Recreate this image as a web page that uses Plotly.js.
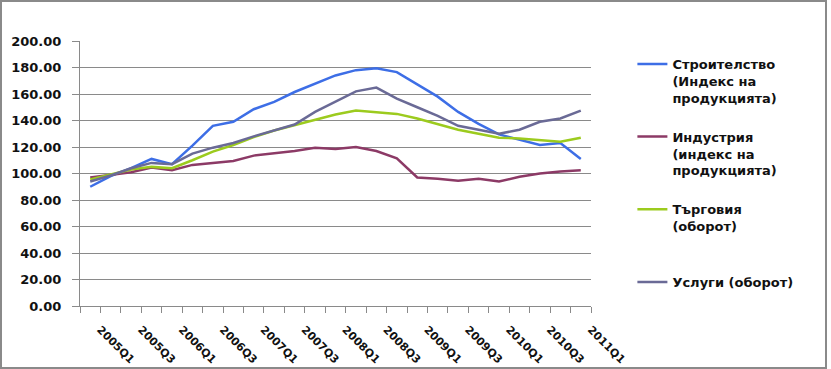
<!DOCTYPE html>
<html>
<head>
<meta charset="utf-8">
<script src="https://cdn.plot.ly/plotly-3.0.1.min.js"></script>
<style>
  html, body { margin: 0; padding: 0; background: #ffffff; }
  #chart { width: 831px; height: 369px; position: absolute; left: 0; top: 0; }
  #frame { position: absolute; left: 0; top: 0; width: 823px; height: 365px;
           border: 2px solid #8a8a8a; pointer-events: none; }
</style>
</head>
<body>
<div id="chart"></div>
<div id="frame"></div>
<script>
const categories = ["2005Q1","2005Q2","2005Q3","2005Q4","2006Q1","2006Q2","2006Q3","2006Q4",
  "2007Q1","2007Q2","2007Q3","2007Q4","2008Q1","2008Q2","2008Q3","2008Q4",
  "2009Q1","2009Q2","2009Q3","2009Q4","2010Q1","2010Q2","2010Q3","2010Q4","2011Q1"];

const construction = [90, 98, 104, 111, 107, 121, 136, 139, 148.5, 154, 161.5, 168, 174, 178, 179.5,
  176.5, 167, 158, 146.5, 137.5, 129.5, 125.5, 121.5, 123, 111];
const industry = [97, 99, 101, 104.5, 102.5, 106.5, 108, 109.5, 113.5, 115, 117, 119.5, 118.5, 120, 117,
  111.5, 97, 96, 94.5, 96, 94, 97.5, 100, 101.5, 102.5];
const trade = [95.5, 99.5, 103, 105, 104, 110, 116.5, 121.5, 127.5, 132.5, 136.5, 141, 144.5, 147.5, 146.5,
  145, 141.5, 137, 133, 130, 127, 126.5, 125.3, 124, 127];
const services = [94, 98.5, 104, 108, 107, 115, 119.5, 123, 128, 132.5, 137, 146.5, 154, 162, 164.8,
  156.5, 150, 143.5, 136, 133, 130, 133, 139, 141.5, 147.5];

const seriesNames = [
  "Строителство<br>(Индекс на<br>продукцията)",
  "Индустрия<br>(индекс на<br>продукцията)",
  "Търговия<br>(оборот)<br>&nbsp;",
  "Услуги (оборот)<br>&nbsp;<br>&nbsp;"
];
const seriesColors = ["#3d6ee6", "#8c3a66", "#9ccb1e", "#6a6a96"];
const seriesValues = [construction, industry, trade, services];

const yTicks = [0, 20, 40, 60, 80, 100, 120, 140, 160, 180, 200];

const idx = categories.map((c, i) => i);
const labelIdx = idx.filter(i => i % 2 === 0);
const boundaries = categories.map((c, i) => i - 0.5).concat([categories.length - 0.5]);

const traces = seriesValues.map((vals, k) => ({
  type: "scatter",
  mode: "lines",
  x: idx,
  y: vals,
  name: seriesNames[k],
  legendgroup: "g" + k,
  line: { color: seriesColors[k], width: 2.5 },
  hoverinfo: "skip"
}));

const layout = {
  width: 831,
  height: 369,
  margin: { l: 80, r: 240, t: 41, b: 63 },
  paper_bgcolor: "#ffffff",
  plot_bgcolor: "#ffffff",
  font: { family: "DejaVu Sans", color: "#111111" },
  showlegend: true,
  legend: {
    x: 1.081, xanchor: "left",
    y: 0.97, yanchor: "top",
    valign: "top",
    traceorder: "grouped",
    tracegroupgap: 19,
    font: { family: "DejaVu Sans", size: 13, weight: "bold", color: "#111111" },
    bgcolor: "rgba(0,0,0,0)"
  },
  xaxis: {
    type: "linear",
    range: [-0.5, categories.length - 0.5],
    tickmode: "array",
    tickvals: labelIdx,
    ticktext: labelIdx.map(i => categories[i]),
    ticks: "",
    tickangle: 45,
    ticklabelshift: 10,
    ticklabelstandoff: 12,
    tickfont: { family: "DejaVu Sans", size: 11, weight: "bold", color: "#111111" },
    showgrid: false,
    zeroline: false,
    showline: true,
    linecolor: "#8a8a8a",
    linewidth: 1,
    minor: {
      tickmode: "array",
      tickvals: boundaries,
      ticks: "outside",
      ticklen: 6,
      tickcolor: "#8a8a8a",
      tickwidth: 1,
      showgrid: false
    },
    fixedrange: true
  },
  yaxis: {
    range: [0, 200],
    tickmode: "array",
    tickvals: yTicks,
    ticktext: yTicks.map(v => v.toFixed(2)),
    ticks: "outside",
    ticklen: 7,
    tickcolor: "#8a8a8a",
    ticklabelstandoff: 8,
    tickfont: { family: "DejaVu Sans", size: 13, weight: "bold", color: "#111111" },
    showgrid: true,
    gridcolor: "#8a8a8a",
    gridwidth: 1,
    zeroline: false,
    showline: true,
    linecolor: "#8a8a8a",
    linewidth: 1,
    fixedrange: true
  }
};

Plotly.newPlot("chart", traces, layout, { displayModeBar: false, staticPlot: true });
</script>
</body>
</html>
